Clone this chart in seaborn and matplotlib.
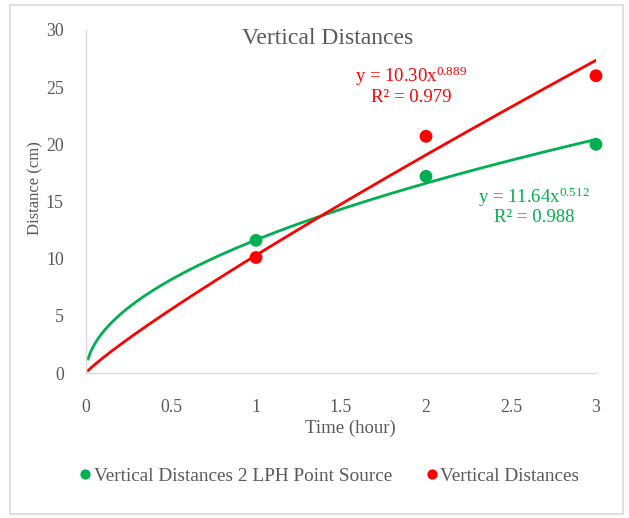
import numpy as np
import pandas as pd
import matplotlib
matplotlib.use("Agg")
import matplotlib.pyplot as plt
from matplotlib.patches import Rectangle
import seaborn as sns

# ---- data ----
time_hours = [1, 2, 3]
green_values = [11.6, 17.2, 20.0]   # Vertical Distances 2 LPH Point Source
red_values = [10.1, 20.7, 26.0]     # Vertical Distances
green_series = "Vertical Distances 2 LPH Point Source"
red_series = "Vertical Distances"
green_coef, green_exp, green_r2 = 11.64, 0.512, 0.988
red_coef, red_exp, red_r2 = 10.30, 0.889, 0.979
x_ticks = [0, 0.5, 1, 1.5, 2, 2.5, 3]
y_ticks = [0, 5, 10, 15, 20, 25, 30]

GREEN = "#00B050"
RED = "#FF0000"
TEXT = "#595959"

sns.set_style("white")
plt.rcParams["font.family"] = ["Liberation Serif", "DejaVu Serif"]
plt.rcParams["mathtext.fontset"] = "custom"
plt.rcParams["mathtext.rm"] = "Liberation Serif"
plt.rcParams["mathtext.default"] = "regular"

pts = pd.DataFrame({
    "Time": time_hours * 2,
    "Distance": green_values + red_values,
    "Series": [green_series] * 3 + [red_series] * 3,
})

xs = np.linspace(0.012, 3, 300)
trend = pd.DataFrame({
    "Time": np.concatenate([xs, xs]),
    "Distance": np.concatenate([green_coef * xs ** green_exp, red_coef * xs ** red_exp]),
    "Series": [green_series] * len(xs) + [red_series] * len(xs),
})

fig = plt.figure(figsize=(6.29, 5.18), dpi=100)
ax = fig.add_axes([86 / 629, 1 - 373 / 518, (596 - 86) / 629, (373 - 30) / 518])

palette = {green_series: GREEN, red_series: RED}
sns.lineplot(data=trend, x="Time", y="Distance", hue="Series", palette=palette,
             linewidth=2.0, legend=False, ax=ax, sort=False)
sns.scatterplot(data=pts, x="Time", y="Distance", hue="Series", palette=palette,
                s=85, edgecolor="none", ax=ax, legend=True, zorder=5, clip_on=False)

ax.set_xlim(0, 3)
ax.set_ylim(0, 30)
ax.set_xticks(x_ticks)
ax.set_xticklabels([f"{t:g}" for t in x_ticks])
ax.set_yticks(y_ticks)
ax.tick_params(axis="x", length=0, pad=19, labelsize=12.8, labelcolor=TEXT)
ax.tick_params(axis="y", length=0, pad=16, labelsize=12.8, labelcolor=TEXT)

for s in ["top", "right"]:
    ax.spines[s].set_visible(False)
for s in ["left", "bottom"]:
    ax.spines[s].set_color("#D9D9D9")
    ax.spines[s].set_linewidth(1.0)

ax.set_xlabel("")
ax.set_ylabel("")
fig.text(350 / 629, 1 - 428 / 518, "Time (hour)", fontsize=13.5, color=TEXT,
         ha="center", va="center")
fig.text(35 / 629, 1 - 188 / 518, "Distance (cm)", rotation=90, fontsize=12,
         color=TEXT, ha="center", va="center")

fig.text(328 / 629, 1 - 38 / 518, "Vertical Distances", fontsize=17,
         color=TEXT, ha="center", va="center")

fig.text(411 / 629, 1 - 76 / 518, f"y = {red_coef:.2f}x$^{{{red_exp:.3f}}}$",
         fontsize=13.5, color=RED, ha="center", va="center")
fig.text(411 / 629, 1 - 97 / 518, f"R² = {red_r2:.3f}",
         fontsize=13.5, color=RED, ha="center", va="center")
fig.text(534 / 629, 1 - 197 / 518, f"y = {green_coef:.2f}x$^{{{green_exp:.3f}}}$",
         fontsize=13.5, color=GREEN, ha="center", va="center")
fig.text(534 / 629, 1 - 218 / 518, f"R² = {green_r2:.3f}",
         fontsize=13.5, color=GREEN, ha="center", va="center")

handles, labels = ax.get_legend_handles_labels()
ax.legend(handles, labels, loc="center", bbox_to_anchor=(328 / 629, 1 - 476 / 518),
          bbox_transform=fig.transFigure, ncol=2, frameon=False, fontsize=13.9,
          labelcolor=TEXT, handletextpad=0.0, columnspacing=1.6, markerscale=0.8,
          handlelength=0.9)

fig.patches.append(Rectangle((10 / 629, 4 / 518), (623 - 10) / 629, (513 - 4) / 518,
                             transform=fig.transFigure, fill=False,
                             edgecolor="#D9D9D9", linewidth=1.2))

fig.savefig("out.png", dpi=100, facecolor="white")
